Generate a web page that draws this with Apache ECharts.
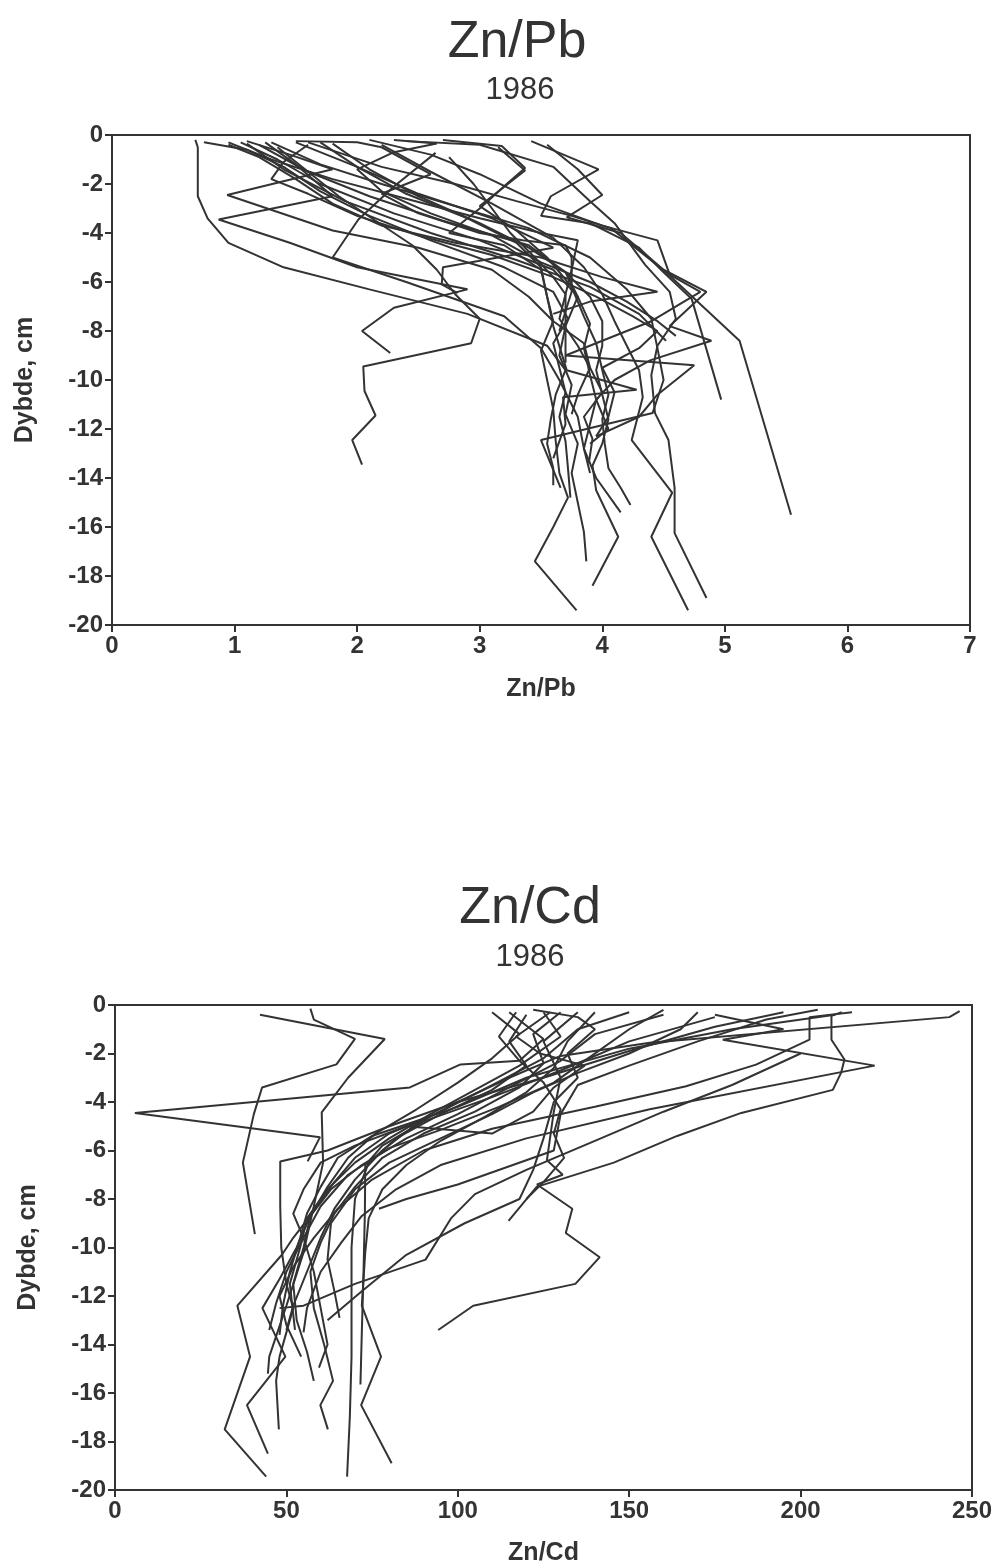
<!DOCTYPE html>
<html>
<head>
<meta charset="utf-8">
<script src="https://cdn.jsdelivr.net/npm/echarts@6/dist/echarts.min.js"></script>
<style>
  html, body { margin: 0; padding: 0; background: #fff; }
  #chart { width: 1005px; height: 1567px; }
</style>
</head>
<body>
<div id="chart"></div>
<script>
// Depth profiles, one array per core: [ratio, depth in cm]
// Zn/Pb, 1986
const znPb = [
  [[0.68,-0.2],[0.7,-0.5],[0.7,-1.3],[0.7,-2.5],[0.78,-3.4],[0.95,-4.4],[1.4,-5.4],[2.1,-6.3],[2.9,-7.3],[3.55,-8.6],[3.7,-9.6],[3.62,-10.6],[3.58,-11.6],[3.55,-12.6],[3.6,-13.6],[3.6,-14.3]],
  [[0.75,-0.3],[1.1,-0.6],[1.4,-1.3],[1.7,-2.3],[2.1,-3.3],[2.6,-4.3],[3.2,-5.4],[3.6,-6.4],[3.72,-7.5],[3.6,-8.5],[3.65,-9.5],[3.7,-10.5],[3.65,-11.5],[3.7,-12.5],[3.72,-13.6],[3.74,-14.8]],
  [[1.25,-0.3],[1.5,-1.2],[1.8,-2.5],[0.87,-3.45],[1.45,-4.4],[2.0,-5.4],[2.9,-6.3],[2.3,-7.05],[2.04,-8.0],[2.27,-8.9]],
  [[1.1,-0.25],[1.45,-0.8],[1.8,-1.4],[0.94,-2.45],[1.8,-3.9],[2.5,-4.6],[3.1,-5.5],[3.4,-6.6],[3.6,-7.6],[3.85,-8.5],[3.9,-9.5],[4.0,-10.5],[3.85,-11.5],[3.92,-12.4],[3.89,-13.4]],
  [[1.6,-0.3],[2.2,-1.3],[2.8,-2.0],[3.3,-2.7],[3.75,-3.3],[4.07,-3.8],[4.52,-5.6],[5.12,-8.4],[5.54,-15.5]],
  [[3.42,-0.25],[3.97,-1.4],[3.58,-2.5],[3.5,-3.3],[3.9,-3.6],[4.3,-4.6],[4.5,-5.6],[4.73,-6.7],[4.97,-10.8]],
  [[3.15,-0.5],[3.37,-1.45],[3.0,-2.9],[3.3,-3.9],[3.55,-5.0],[3.75,-6.2],[3.85,-7.4],[3.95,-8.5],[4.0,-9.6],[4.05,-10.6],[4.0,-11.6],[4.02,-12.6],[4.05,-13.6],[4.15,-14.4],[4.23,-15.1]],
  [[3.55,-0.4],[3.8,-1.4],[4.0,-2.45],[3.71,-3.36],[4.15,-4.0],[4.5,-5.5],[4.85,-6.4],[4.55,-7.8],[4.89,-8.4],[4.39,-9.2],[4.1,-10.0],[3.95,-10.8],[4.05,-12.0],[3.9,-12.6]],
  [[1.35,-0.5],[1.6,-1.5],[1.85,-2.5],[2.15,-3.5],[2.45,-4.5],[2.65,-5.5],[2.8,-6.5],[3.0,-7.5],[2.93,-8.5],[2.05,-9.45],[2.06,-10.45],[2.15,-11.45],[1.96,-12.45],[2.04,-13.45]],
  [[2.4,-0.25],[3.0,-0.4],[3.6,-1.3],[3.9,-2.7],[4.1,-3.6],[4.35,-5.3],[4.55,-6.4],[4.6,-7.5],[4.45,-8.6],[4.4,-9.8],[4.43,-11.35],[4.54,-12.45],[4.59,-14.4],[4.59,-16.25],[4.85,-18.9]],
  [[2.2,-0.4],[2.6,-1.5],[3.1,-2.8],[3.6,-4.2],[3.85,-5.4],[4.0,-6.5],[4.1,-7.6],[4.2,-8.6],[4.3,-9.6],[4.33,-10.7],[4.24,-12.45],[4.57,-14.6],[4.4,-16.4],[4.7,-19.4]],
  [[1.7,-0.3],[2.0,-1.3],[2.4,-2.4],[2.9,-3.4],[3.3,-4.4],[3.5,-5.4],[3.55,-6.6],[3.6,-7.6],[3.5,-8.8],[3.55,-10.0],[3.6,-11.2],[3.62,-12.5],[3.65,-13.8],[3.72,-14.8],[3.6,-16.0],[3.45,-17.4],[3.79,-19.4]],
  [[1.8,-0.35],[2.1,-1.4],[2.5,-2.5],[3.0,-3.6],[3.4,-4.6],[3.7,-5.6],[3.9,-6.6],[4.0,-7.6],[4.0,-8.6],[3.95,-9.6],[4.0,-10.6],[4.05,-11.6],[4.0,-12.6],[3.92,-13.5],[3.95,-14.5],[4.13,-16.4],[3.92,-18.4]],
  [[1.05,-0.3],[1.35,-1.0],[1.7,-2.0],[2.3,-3.2],[3.0,-4.3],[3.6,-5.5],[3.8,-6.6],[3.7,-7.8],[3.65,-9.0],[3.75,-10.2],[3.7,-11.4],[3.8,-12.6],[3.75,-13.8],[3.8,-15.0],[3.85,-16.2],[3.87,-17.4]],
  [[1.2,-0.4],[1.6,-1.5],[2.1,-2.5],[2.7,-3.5],[3.4,-4.5],[3.7,-5.6],[3.8,-6.6],[3.9,-7.7],[3.85,-8.7],[3.9,-9.8],[3.95,-10.8],[3.9,-11.8],[3.85,-12.8],[3.95,-14.0],[4.15,-15.4]],
  [[1.5,-0.3],[2.0,-1.3],[2.5,-2.4],[3.1,-3.4],[3.6,-4.6],[2.7,-5.4],[2.69,-6.1],[2.82,-6.45]],
  [[1.1,-0.35],[1.4,-1.4],[1.9,-2.7],[2.6,-4.0],[3.3,-5.1],[3.9,-6.2],[4.3,-7.3],[4.52,-8.4]],
  [[2.7,-0.2],[3.18,-0.45],[3.37,-1.35],[3.22,-2.0],[3.0,-3.0],[2.75,-4.0],[3.2,-4.5],[3.5,-5.5],[3.55,-6.6],[3.6,-7.8],[3.71,-9.6],[4.28,-10.4],[3.68,-10.7],[3.7,-11.8],[3.6,-13.2]],
  [[1.3,-0.3],[1.7,-1.2],[2.2,-2.0],[2.8,-2.9],[3.4,-3.8],[3.9,-5.0],[4.2,-6.3],[4.4,-7.5],[4.45,-8.7],[4.5,-10.0],[4.41,-11.35],[3.5,-12.45],[3.66,-14.4]],
  [[2.1,-0.2],[2.6,-0.8],[3.0,-1.6],[3.5,-2.8],[4.0,-3.7],[4.45,-4.3],[4.55,-5.7],[4.8,-6.4],[4.4,-7.6],[4.0,-8.4],[3.7,-9.0],[4.75,-9.4],[4.45,-10.6],[4.3,-11.5],[3.95,-12.3]],
  [[0.95,-0.3],[1.3,-1.0],[1.8,-1.8],[2.4,-2.6],[3.0,-3.4],[3.5,-4.0],[3.8,-4.3],[3.75,-5.5],[3.7,-6.5],[3.65,-7.5],[3.8,-8.6],[3.9,-9.5],[3.8,-10.6],[3.75,-11.4]],
  [[1.6,-0.4],[1.4,-1.1],[1.3,-1.8],[1.6,-2.4],[2.0,-3.3],[2.5,-4.1],[3.1,-4.9],[3.6,-5.8],[3.95,-6.6],[4.25,-7.4],[4.45,-8.0],[4.3,-8.7],[4.0,-9.5],[4.1,-10.5],[4.05,-11.5],[3.95,-12.3]],
  [[1.5,-0.25],[2.0,-0.3],[2.2,-0.5],[2.6,-1.6],[2.2,-2.4],[2.5,-3.2],[3.0,-4.0],[3.35,-4.3],[3.7,-4.5],[3.75,-5.0],[3.75,-6.4],[3.65,-8.0]],
  [[2.3,-0.2],[2.65,-0.35],[2.3,-0.7],[2.0,-1.4],[2.2,-2.3],[2.6,-3.2],[3.1,-4.1],[3.5,-5.2],[3.9,-6.0],[4.2,-6.8],[4.45,-7.6],[4.6,-8.2]],
  [[0.95,-0.4],[1.2,-0.9],[1.5,-1.8],[1.8,-2.8],[2.2,-3.7],[2.8,-4.4],[3.5,-5.0],[4.0,-5.8],[4.45,-6.4],[3.9,-6.8],[3.6,-7.3]],
  [[2.64,-0.73],[2.3,-2.1],[2.01,-3.45],[1.8,-5.0],[2.4,-6.0],[3.2,-7.4],[3.5,-8.7],[3.65,-10.0],[3.8,-11.5],[3.85,-12.8],[3.9,-13.8]],
  [[2.75,-0.9],[2.95,-2.0],[3.1,-3.0],[3.25,-4.0],[3.45,-5.0],[3.6,-5.8],[3.7,-6.5],[3.7,-8.0],[3.7,-9.3]]
];

// Zn/Cd, 1986
const znCd = [
  [[42.3,-0.4],[78.7,-1.4],[68,-3.0],[60.3,-4.43],[60.7,-6.5],[58,-8.3],[55,-10.2],[50,-12.4],[45,-14.5],[44.6,-15.2]],
  [[57,-0.15],[58,-0.6],[70,-1.4],[64.6,-2.45],[42.9,-3.4],[40.5,-4.5],[37.3,-6.5],[40.8,-9.45]],
  [[115,-0.3],[125,-1.4],[118,-2.3],[100.8,-2.45],[86,-3.4],[5.8,-4.45],[59.8,-5.45],[56.2,-6.45]],
  [[212,-0.3],[209,-0.45],[209,-1.43],[212.8,-2.25],[211.8,-2.8],[209.4,-3.5],[182.7,-4.45],[164,-5.4],[145.5,-6.5],[123,-7.5],[114.8,-8.9]],
  [[175,-0.4],[195,-1.0],[177.3,-1.43],[221.6,-2.5],[156,-4.3],[120,-5.5],[95,-6.6],[82,-7.6],[72,-8.7],[66,-9.8],[60,-11],[56,-12.5],[55,-13.5]],
  [[215,-0.3],[202.6,-0.5],[202.6,-1.43],[187,-2.46],[166.6,-3.35],[140,-4.2],[110,-5.1],[90,-6.0],[75,-7.2],[65,-8.4],[58,-9.6],[52,-10.8],[48,-12.0],[50,-13.2],[54.3,-14.5]],
  [[246.4,-0.25],[243.4,-0.5],[156,-1.56],[130,-2.1],[115,-3.0],[100,-4.0],[88,-4.9],[78,-6.0],[70,-7.2],[64,-8.4],[60,-9.6],[56,-11],[52,-12.4],[50,-13.4]],
  [[135,-0.3],[125,-1.5],[130,-3.0],[128,-4.4],[127,-5.4],[126,-6.4],[130.6,-7.0],[123.1,-7.4],[133.4,-8.4],[131.5,-9.4],[141.4,-10.4],[134.3,-11.5],[104.5,-12.4],[94.3,-13.4]],
  [[150,-0.3],[135,-1.0],[125,-2.2],[110,-3.3],[95,-4.4],[80,-5.3],[70,-6.3],[64,-7.3],[58,-8.5],[52,-9.6],[48.7,-10.3],[35.7,-12.4],[39.4,-14.5],[32,-17.5],[44.1,-19.45]],
  [[160,-0.4],[140,-1.2],[130,-2.3],[115,-3.4],[100,-4.5],[85,-5.5],[72,-6.6],[63,-7.6],[57,-8.7],[53,-10.0],[48,-11.3],[43,-12.5],[49.7,-14.5],[38.5,-16.5],[44.6,-18.5]],
  [[195,-0.3],[175,-0.9],[150,-1.9],[125,-3.0],[100,-4.0],[80,-5.0],[62,-6.0],[48.2,-6.45],[48.2,-8.3],[48.5,-10.0],[50,-11.5],[52,-12.5],[50,-13.5],[48,-14.5],[47,-15.5],[47.8,-17.5]],
  [[130,-0.3],[122,-1.2],[125,-2.4],[118,-3.4],[105,-4.4],[90,-5.3],[78,-6.3],[70,-7.5],[64,-8.6],[60,-9.8],[57,-11.0],[58,-12.5],[61,-14.0],[63.6,-15.5],[59.9,-16.5],[62.1,-17.5]],
  [[120,-0.4],[115,-1.5],[120,-2.5],[110,-3.5],[95,-4.5],[82,-5.5],[74,-6.5],[70,-8.0],[69,-10.0],[69,-12.0],[69,-14.5],[68.5,-17.0],[67.7,-19.45]],
  [[140,-0.3],[132,-1.5],[128,-2.6],[120,-3.6],[108,-4.6],[95,-5.6],[85,-6.6],[78,-7.6],[74,-8.8],[73,-10.2],[72,-12.4],[77.6,-14.5],[71.8,-16.5],[80.7,-18.9]],
  [[110,-0.3],[118,-1.2],[110,-2.2],[100,-3.2],[88,-4.3],[76,-5.3],[68,-6.3],[62,-7.5],[57,-8.7],[55,-10.0],[52,-11.5],[53,-13.0],[56,-14.3],[58,-15.5]],
  [[175,-0.5],[150,-1.5],[130,-2.7],[110,-3.8],[90,-4.8],[78,-5.8],[73,-6.6],[72.9,-8.5],[72.5,-11],[72,-13.5],[71.6,-15.65]],
  [[160,-0.2],[150,-1.0],[138,-2.2],[128,-3.2],[112,-4.2],[96,-5.1],[80,-5.9],[68,-7.0],[60,-8.3],[55,-9.6],[50,-11],[47,-12.3],[45,-13.4]],
  [[125,-0.3],[130,-1.3],[118,-2.5],[105,-3.5],[92,-4.5],[80,-5.5],[70,-6.5],[62,-7.6],[56,-8.8],[54,-10.0],[51,-11.5],[52.5,-13.4]],
  [[170,-0.3],[165,-1.0],[150,-2.0],[135,-2.8],[122,-3.6],[110,-4.5],[95,-5.5],[80,-6.5],[70,-7.6],[63,-9],[62,-10.5],[64,-11.8],[65.5,-12.9]],
  [[205,-0.2],[190,-0.6],[170,-1.5],[150,-2.5],[135,-3.3],[130,-4.5],[128,-6.0],[100,-7.4],[85,-8.0],[77,-8.4]],
  [[210,-0.4],[180,-1.0],[150,-1.8],[120,-3.0],[100,-4.2],[75,-5.4],[65,-6.3],[60,-7.5],[56,-8.6],[54,-9.6],[51,-11],[49,-12.4],[48,-13.6]],
  [[200,-2.0],[180,-3.3],[160,-4.4],[140,-5.6],[120,-6.8],[105,-7.8],[98,-8.8],[90.6,-10.5],[70,-11.5],[55,-12.4],[48,-12.5]],
  [[117,-0.3],[112,-1.3],[118,-2.3],[125,-3.2],[130,-4.3],[128,-5.3],[131,-6.3],[125,-7.3],[120,-8.0]],
  [[122,-0.2],[135,-0.5],[140,-1.0],[132,-2.0],[135,-3.0],[128,-4.0],[125,-5.5],[122,-6.8],[118,-8.0],[102,-9.0],[85,-10.3],[72,-11.8],[62,-13.0]],
  [[127,-0.3],[117,-1.3],[124,-2.0],[137,-2.5],[128,-3.4],[122,-4.4],[110,-5.3],[85,-5.0],[70,-5.8],[60,-6.5],[55,-7.6],[52,-8.6],[55,-9.6],[58,-11],[60,-12.5],[62,-14],[59.5,-14.95]]
];

const depthTicks = { min: -20, max: 0, interval: 2 };
const pbTicks = { min: 0, max: 7, interval: 1 };
const cdTicks = { min: 0, max: 250, interval: 50 };

const ink = '#333';
const font = 'Liberation Sans, Arial, sans-serif';

function valueAxis(extra) {
  return Object.assign({
    type: 'value',
    axisLine: { show: true, onZero: false, lineStyle: { color: ink, width: 2 } },
    axisTick: { show: true, inside: false, length: 7, lineStyle: { color: ink, width: 2 } },
    axisLabel: { color: ink, fontSize: 24, fontFamily: font, fontWeight: 'bold', margin: 9 },
    splitLine: { show: false },
    nameTextStyle: { color: ink, fontSize: 25, fontFamily: font, fontWeight: 'bold' }
  }, extra);
}

function profileSeries(list, idx) {
  return list.map(pts => ({
    type: 'line',
    xAxisIndex: idx,
    yAxisIndex: idx,
    data: pts,
    symbol: 'none',
    silent: true,
    lineStyle: { color: ink, width: 2 }
  }));
}

const chart = echarts.init(document.getElementById('chart'), null, { renderer: 'canvas' });
chart.setOption({
  animation: false,
  backgroundColor: '#fff',
  title: [
    { text: 'Zn/Pb', left: 512, top: 12, textAlign: 'center',
      textStyle: { fontFamily: font, fontSize: 52, fontWeight: 'normal', color: ink } },
    { text: '1986', left: 515, top: 70, textAlign: 'center',
      textStyle: { fontFamily: font, fontSize: 31, fontWeight: 'normal', color: ink } },
    { text: 'Zn/Cd', left: 525, top: 878, textAlign: 'center',
      textStyle: { fontFamily: font, fontSize: 52, fontWeight: 'normal', color: ink } },
    { text: '1986', left: 525, top: 937, textAlign: 'center',
      textStyle: { fontFamily: font, fontSize: 31, fontWeight: 'normal', color: ink } }
  ],
  grid: [
    { left: 112, top: 135, width: 858, height: 490, show: true, borderColor: ink, borderWidth: 2, backgroundColor: 'transparent' },
    { left: 115, top: 1005, width: 857, height: 488, show: true, borderColor: ink, borderWidth: 2, backgroundColor: 'transparent' }
  ],
  xAxis: [
    valueAxis(Object.assign({ gridIndex: 0, name: 'Zn/Pb', nameLocation: 'middle', nameGap: 52 }, pbTicks)),
    valueAxis(Object.assign({ gridIndex: 1, name: 'Zn/Cd', nameLocation: 'middle', nameGap: 51 }, cdTicks))
  ],
  yAxis: [
    valueAxis(Object.assign({ gridIndex: 0, name: 'Dybde, cm', nameLocation: 'middle', nameGap: 74 }, depthTicks)),
    valueAxis(Object.assign({ gridIndex: 1, name: 'Dybde, cm', nameLocation: 'middle', nameGap: 74 }, depthTicks))
  ],
  series: profileSeries(znPb, 0).concat(profileSeries(znCd, 1))
});
</script>
</body>
</html>
